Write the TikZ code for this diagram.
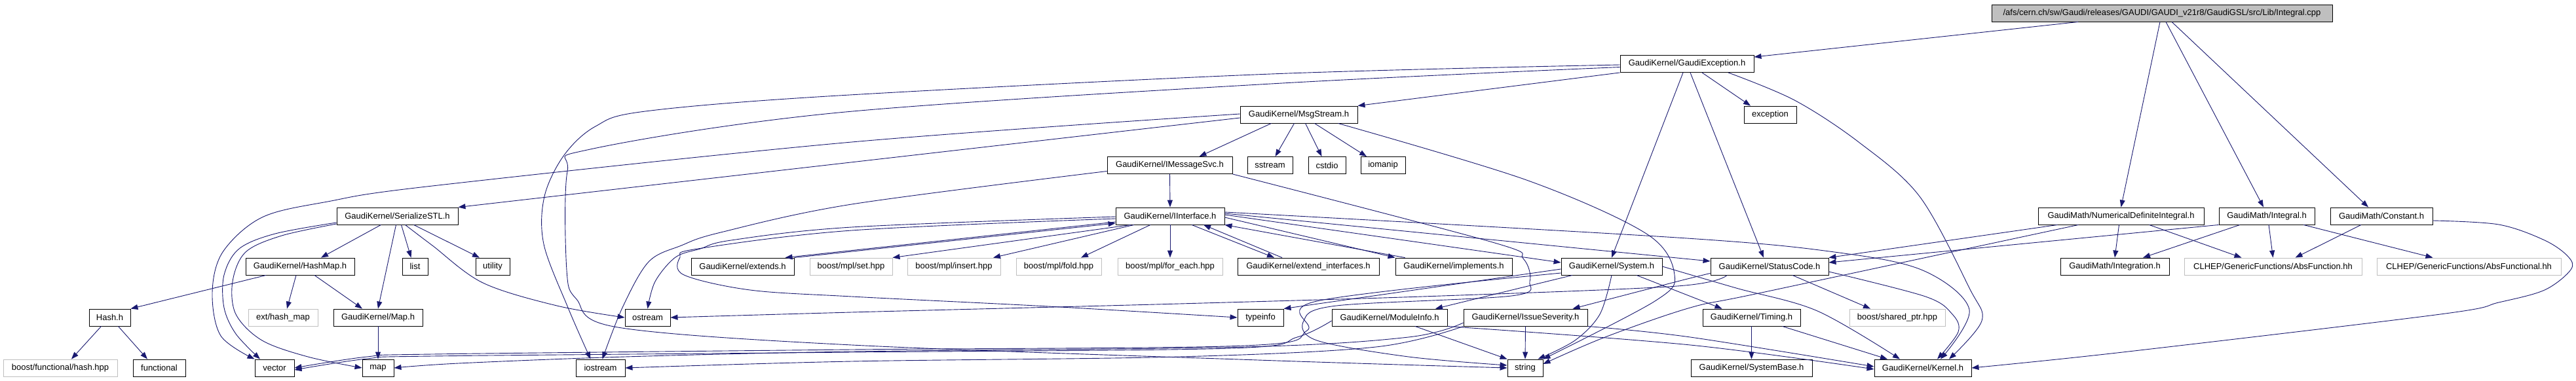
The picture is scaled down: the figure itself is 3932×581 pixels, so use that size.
\documentclass[tikz,border=0pt]{standalone}
\usepackage{fontspec}
\setmainfont{Liberation Sans}
\usetikzlibrary{arrows.meta}
\definecolor{edgec}{HTML}{191970}
\definecolor{extgray}{HTML}{BFBFBF}
\begin{document}
\begin{tikzpicture}[x=1pt,y=-1pt,
  nd/.style={draw=black, line width=0.9pt, inner sep=0pt, minimum height=26pt, font=\fontsize{13}{15}\selectfont},
  ext/.style={nd, draw=extgray},
  edge/.style={draw=edgec, line width=0.9pt, -{Triangle[length=11pt,width=8pt]}}]
\fill[white] (0,0) rectangle (3932,581);
\useasboundingbox (0,0) rectangle (3932,581);
% row 1
\node[nd, fill=extgray, minimum width=520pt] (root) at (3300,20) {/afs/cern.ch/sw/Gaudi/releases/GAUDI/GAUDI\_v21r8/GaudiGSL/src/Lib/Integral.cpp};
% row 2
\node[nd, minimum width=204pt] (gexc) at (2575,97.5) {GaudiKernel/GaudiException.h};
% row 3
\node[nd, minimum width=179pt] (msgstream) at (1982.5,175) {GaudiKernel/MsgStream.h};
\node[nd, minimum width=80pt] (exception) at (2702,175) {exception};
% row 4
\node[nd, minimum width=191pt] (imsgsvc) at (1785.5,252.5) {GaudiKernel/IMessageSvc.h};
\node[nd, minimum width=69pt] (sstream) at (1938.5,252.5) {sstream};
\node[nd, minimum width=57pt] (cstdio) at (2025.5,252.5) {cstdio};
\node[nd, minimum width=68pt] (iomanip) at (2111,252.5) {iomanip};
% row 5
\node[nd, minimum width=185pt] (serial) at (606.5,330) {GaudiKernel/SerializeSTL.h};
\node[nd, minimum width=166pt] (iinterface) at (1786,330) {GaudiKernel/IInterface.h};
\node[nd, minimum width=253pt] (numdef) at (3237.5,330) {GaudiMath/NumericalDefiniteIntegral.h};
\node[nd, minimum width=146pt] (integral) at (3460,330) {GaudiMath/Integral.h};
\node[nd, minimum width=156pt] (constant) at (3635,330) {GaudiMath/Constant.h};
% row 6
\node[nd, minimum width=166pt] (hashmap) at (458,407) {GaudiKernel/HashMap.h};
\node[nd, minimum width=39pt] (list) at (633.5,407) {list};
\node[nd, minimum width=52pt] (utility) at (752,407) {utility};
\node[nd, minimum width=157pt] (extends) at (1133.5,407) {GaudiKernel/extends.h};
\node[ext, minimum width=126pt] (mplset) at (1299,407) {boost/mpl/set.hpp};
\node[ext, minimum width=142pt] (mplinsert) at (1456,407) {boost/mpl/insert.hpp};
\node[ext, minimum width=130pt] (mplfold) at (1616,407) {boost/mpl/fold.hpp};
\node[ext, minimum width=160pt] (mplforeach) at (1786,407) {boost/mpl/for\_each.hpp};
\node[nd, minimum width=216pt] (extint) at (1997,407) {GaudiKernel/extend\_interfaces.h};
\node[nd, minimum width=178pt] (implements) at (2219,407) {GaudiKernel/implements.h};
\node[nd, minimum width=154pt] (system) at (2460,407) {GaudiKernel/System.h};
\node[nd, minimum width=180pt] (statuscode) at (2701,407) {GaudiKernel/StatusCode.h};
\node[nd, minimum width=166pt] (integration) at (3228,407) {GaudiMath/Integration.h};
\node[ext, minimum width=271pt] (absfunction) at (3469.5,407) {CLHEP/GenericFunctions/AbsFunction.hh};
\node[ext, minimum width=281pt] (absfunctional) at (3768.5,407) {CLHEP/GenericFunctions/AbsFunctional.hh};
% row 7
\node[nd, minimum width=63pt] (hash) at (167.5,485) {Hash.h};
\node[ext, minimum width=106pt] (exthashmap) at (432,485) {ext/hash\_map};
\node[nd, minimum width=136pt] (mapkern) at (577,485) {GaudiKernel/Map.h};
\node[nd, minimum width=69pt] (ostream) at (988.5,485) {ostream};
\node[nd, minimum width=70pt] (typeinfo) at (1924,485) {typeinfo};
\node[nd, minimum width=176pt] (moduleinfo) at (2121,485) {GaudiKernel/ModuleInfo.h};
\node[nd, minimum width=189pt] (issue) at (2328.5,485) {GaudiKernel/IssueSeverity.h};
\node[nd, minimum width=149pt] (timing) at (2673.5,485) {GaudiKernel/Timing.h};
\node[ext, minimum width=146pt] (sharedptr) at (2896,485) {boost/shared\_ptr.hpp};
% row 8
\node[ext, minimum width=174pt] (boosthash) at (92,562) {boost/functional/hash.hpp};
\node[nd, minimum width=80pt] (functional) at (243,562) {functional};
\node[nd, minimum width=60pt] (vector) at (419,562) {vector};
\node[nd, minimum width=48pt] (map) at (577,562) {map};
\node[nd, minimum width=75pt] (iostream) at (916.5,562) {iostream};
\node[nd, minimum width=54pt] (string) at (2328,562) {string};
\node[nd, minimum width=185pt] (systembase) at (2673.5,562) {GaudiKernel/SystemBase.h};
\node[nd, minimum width=148pt] (kernel) at (2935,562) {GaudiKernel/Kernel.h};

% ---- edges: root
\draw[edge] ([xshift=-128pt]root.south) -- ([yshift=-3pt]gexc.north east);
\draw[edge] ([xshift=-3pt]root.south) -- (numdef.north);
\draw[edge] ([xshift=6pt]root.south) -- ([xshift=-5pt]integral.north);
\draw[edge] ([xshift=15pt]root.south) -- ([xshift=-20pt]constant.north);
% gexc
\draw[edge] (gexc.south west) -- (msgstream.north east);
\draw[edge] ([xshift=23pt]gexc.south) -- ([xshift=-30pt]exception.north);
\draw[edge] ([xshift=5pt]gexc.south) -- ([xshift=-9pt]statuscode.north);
\draw[edge] ([xshift=-6pt]gexc.south) -- (system.north);
\draw[edge] plot[smooth,tension=0.55] coordinates {([xshift=63pt]gexc.south) (2739,153) (2837,217) (2930,300) (3006,440) (3025,490) ([xshift=40pt]kernel.north)};
\draw[edge] plot[smooth,tension=0.55] coordinates {([yshift=-1.5pt]gexc.west) (1940,113) (1280,146) (985,170) (909,193) (861,237) (831,300) (830,373) (867,470) ([xshift=-15pt]iostream.north)};
\draw[edge] plot[smooth,tension=0.55] coordinates {([yshift=-5pt]gexc.west) (1940,128) (1280,172) (901,228) (866,262) (865,413) (880,457) (943,500) (1300,527) (1920,550) (string.west)};
% msgstream
\draw[edge] ([xshift=-42pt]msgstream.south) -- ([xshift=45pt]imsgsvc.north);
\draw[edge] ([xshift=-7pt]msgstream.south) -- ([xshift=8pt]sstream.north);
\draw[edge] ([xshift=10pt]msgstream.south) -- ([xshift=-8pt]cstdio.north);
\draw[edge] ([xshift=24pt]msgstream.south) -- ([xshift=-25pt]iomanip.north);
\draw[edge] plot[smooth,tension=0.55] coordinates {([xshift=60pt]msgstream.south) (2330,275) (2513,357) (2556,420) (2526,460) (string.north east)};
\draw[edge] ([yshift=-5pt]msgstream.west) -- (serial.north east);
\draw[edge] plot[smooth,tension=0.55] coordinates {([yshift=1pt]msgstream.west) (1300,217) (660,284) (500,308) (400,332) (340,385) (324,447) (337,513) (vector.north west)};
% imsgsvc
\draw[edge] (imsgsvc.south) -- (iinterface.north);
\draw[edge] plot[smooth,tension=0.55] coordinates {([yshift=-9pt]imsgsvc.west) (1300,312) (1100,355) (1040,375) (990,400) (950,470) ([xshift=3pt]iostream.north)};
\draw[edge] plot[smooth,tension=0.55] coordinates {(imsgsvc.south east) (2278,370) (2325,395) (2335,430) (2307,452) (2040,467) (1990,490) (2010,520) (2150,545) ([yshift=4pt]string.west)};
% serial
\draw[edge] ([xshift=-25pt]serial.south) -- ([xshift=32pt]hashmap.north);
\draw[edge] ([xshift=-2pt]serial.south) -- (mapkern.north);
\draw[edge] ([xshift=6pt]serial.south) -- ([xshift=-6pt]list.north);
\draw[edge] ([xshift=25pt]serial.south) -- ([xshift=-20pt]utility.north);
\draw[edge] plot[smooth,tension=0.55] coordinates {([xshift=12pt]serial.south) (660,375) (737,432) (850,467) (ostream.west)};
\draw[edge] plot[smooth,tension=0.55] coordinates {([yshift=-10pt]serial.west) (420,357) (365,380) (342,420) (342,470) (360,510) ([xshift=-22pt]vector.north)};
\draw[edge] plot[smooth,tension=0.55] coordinates {([yshift=-12pt]serial.west) (430,360) (375,385) (355,430) (360,480) (400,520) (470,545) (map.west)};
% hashmap, hash, map
\draw[edge] ([xshift=-52pt]hashmap.south) -- (hash.north east);
\draw[edge] ([xshift=-6pt]hashmap.south) -- ([xshift=6pt]exthashmap.north);
\draw[edge] ([xshift=22pt]hashmap.south) -- ([xshift=-24pt]mapkern.north);
\draw[edge] ([xshift=-13pt]hash.south) -- ([xshift=17pt]boosthash.north);
\draw[edge] ([xshift=13pt]hash.south) -- ([xshift=-18pt]functional.north);
\draw[edge] (mapkern.south) -- (map.north);
% iinterface
\draw[edge] ([xshift=-60pt]iinterface.south) -- (mplset.north east);
\draw[edge] ([xshift=-55pt]iinterface.south) -- ([xshift=60pt]mplinsert.north);
\draw[edge] ([xshift=-30pt]iinterface.south) -- ([xshift=34pt]mplfold.north);
\draw[edge] (iinterface.south) -- (mplforeach.north);
\draw[edge] ([yshift=-9pt]iinterface.west) -- ([xshift=-14pt]extends.north east);
\draw[edge] (extends.north east) -- ([yshift=-11pt]iinterface.west);
\draw[edge] plot[smooth,tension=0.55] coordinates {([yshift=-1pt]iinterface.west) (1300,347) (1116,367) (1069,380) (1031,393) (1000,430) (ostream.north)};
\draw[edge] plot[smooth,tension=0.55] coordinates {([yshift=-4pt]iinterface.west) (1300,352) (1065,380) (1038,393) (1044,420) (1145,443) (1300,453) (1600,468) (typeinfo.west)};
\draw[edge] ([xshift=33pt]iinterface.south) -- ([xshift=-52pt]extint.north);
\draw[edge] ([xshift=-40pt]extint.north) -- ([xshift=51pt]iinterface.south);
\draw[edge] ([yshift=-2pt]iinterface.east) -- (implements.north west);
\draw[edge] ([xshift=15pt]implements.north west) -- (iinterface.south east);
\draw[edge] ([yshift=2pt]iinterface.east) -- ([yshift=6pt]system.west);
\draw[edge] ([yshift=4pt]iinterface.east) -- ([yshift=8pt]statuscode.west);
\draw[edge] plot[smooth,tension=0.55] coordinates {([yshift=6pt]iinterface.east) (2560,363) (2800,385) (2935,413) (3006,473) ([xshift=27pt]kernel.north)};
% system
\draw[edge] ([yshift=-4pt]system.west) -- (typeinfo.north east);
\draw[edge] ([xshift=-60pt]system.south) -- ([xshift=70pt]moduleinfo.north);
\draw[edge] plot[smooth,tension=0.55] coordinates {(system.south) (2442,480) (2404,520) ([xshift=-8pt]string.north east)};
\draw[edge] ([xshift=38pt]system.south) -- ([xshift=-45pt]timing.north);
\draw[edge] plot[smooth,tension=0.55] coordinates {(system.east) (2650,440) (2774,475) ([xshift=-35pt]kernel.north)};
\draw[edge] plot[smooth,tension=0.55] coordinates {([yshift=-10pt]system.west) (2010,460) (1995,505) (1900,528) (1300,534) (660,541) (560,545) (vector.east)};
% moduleinfo
\draw[edge] ([xshift=39pt]moduleinfo.south) -- (string.north west);
\draw[edge] plot[smooth,tension=0.55] coordinates {(moduleinfo.south east) (2580,527) ([yshift=-2pt]kernel.west)};
\draw[edge] plot[smooth,tension=0.55] coordinates {([yshift=-5pt]moduleinfo.west) (1980,515) (1880,532) (1300,538) (660,544) (560,548) ([yshift=-3pt]vector.east)};
% issue
\draw[edge] (issue.south) -- (string.north);
\draw[edge] plot[smooth,tension=0.55] coordinates {(issue.south east) (2580,515) ([yshift=2pt]kernel.west)};
\draw[edge] plot[smooth,tension=0.55] coordinates {([yshift=-8pt]issue.west) (2150,515) (1900,530) (1300,537) (954,545) (700,555) (map.east)};
\draw[edge] plot[smooth,tension=0.55] coordinates {(issue.south west) (2100,530) (1800,545) (1300,552) (iostream.east)};
% timing
\draw[edge] (timing.south) -- (systembase.north);
\draw[edge] ([xshift=47pt]timing.south) -- ([xshift=-54pt]kernel.north);
% statuscode
\draw[edge] ([xshift=35pt]statuscode.south) -- ([xshift=-41pt]sharedptr.north);
\draw[edge] plot[smooth,tension=0.55] coordinates {([yshift=-8pt]statuscode.east) (2939,453) (2980,480) (2989,507) ([xshift=22pt]kernel.north)};
\draw[edge] plot[smooth,tension=0.55] coordinates {([yshift=3pt]statuscode.south west) (2560,430) ([xshift=72pt]issue.north)};
\draw[edge] plot[smooth,tension=0.55] coordinates {([xshift=-65pt]statuscode.south) (2560,437) (2200,452) (1800,464) (1300,477) (ostream.east)};
% numdef
\draw[edge] ([xshift=-97pt]numdef.south) -- (statuscode.north east);
\draw[edge] plot[smooth,tension=0.55] coordinates {([xshift=-65pt]numdef.south) (2689,447) (2580,470) (2450,515) ([yshift=6pt]string.east)};
\draw[edge] ([xshift=-3pt]numdef.south) -- (integration.north);
\draw[edge] ([xshift=43pt]numdef.south) -- ([xshift=-48pt]absfunction.north);
% integral
\draw[edge] (integral.south west) -- ([yshift=6pt]statuscode.east);
\draw[edge] ([xshift=-41pt]integral.south) -- ([xshift=43pt]integration.north);
\draw[edge] ([xshift=3pt]integral.south) -- (absfunction.north);
\draw[edge] ([xshift=56pt]integral.south) -- ([xshift=-55pt]absfunctional.north);
% constant
\draw[edge] ([xshift=-31pt]constant.south) -- ([xshift=34pt]absfunction.north);
\draw[edge] plot[smooth,tension=0.55] coordinates {([yshift=-7pt]constant.east) (3814,343) (3884,367) (3920,392) (3924,412) (3884,443) (3814,462) (3725,480) (3240,538) (kernel.east)};
\end{tikzpicture}
\end{document}
